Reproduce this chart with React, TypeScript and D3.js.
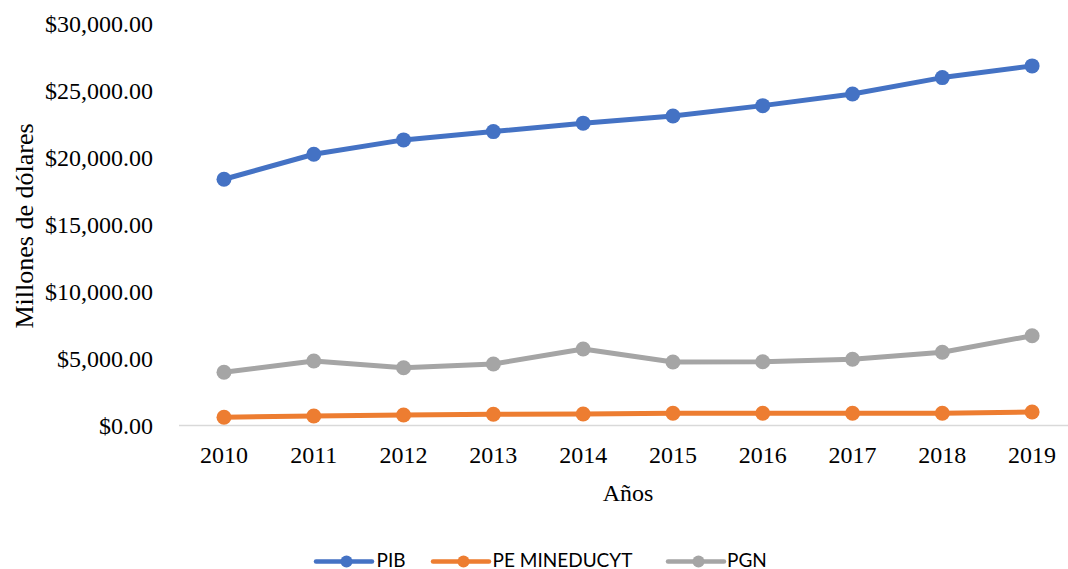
import React from "react";
import * as d3 from "d3";

const years = ["2010", "2011", "2012", "2013", "2014", "2015", "2016", "2017", "2018", "2019"];
const pib = [18400, 20270, 21340, 21960, 22590, 23130, 23900, 24770, 25995, 26870];
const peMineducyt = [613, 710, 785, 837, 860, 912, 912, 912, 912, 1009];
const pgn = [3980, 4820, 4320, 4600, 5720, 4745, 4760, 4950, 5470, 6710];
const yTicks = [0, 5000, 10000, 15000, 20000, 25000, 30000];

const seriesList = [
  { name: "PIB", values: pib, color: "#4472C4" },
  { name: "PE MINEDUCYT", values: peMineducyt, color: "#ED7D31" },
  { name: "PGN", values: pgn, color: "#A5A5A5" },
];

const W = 1068;
const H = 569;

export default function App() {
  const x = d3.scaleBand<string>().domain(years).range([179.1, 1077]).padding(0);
  const cx = (d: string) => (x(d) as number) + x.bandwidth() / 2;
  const y = d3.scaleLinear().domain([0, 30000]).range([425.5, 24]);
  const fmt = (v: number) => "$" + d3.format(",.2f")(v);
  const line = d3
    .line<number>()
    .x((_, i) => cx(years[i]))
    .y((v) => y(v));

  const legendItems = [
    { name: "PIB", color: "#4472C4", x0: 316, tx: 376.5 },
    { name: "PE MINEDUCYT", color: "#ED7D31", x0: 433, tx: 492.5 },
    { name: "PGN", color: "#A5A5A5", x0: 668, tx: 727 },
  ];
  const ly = 561.5;

  return (
    <svg
      width={W}
      height={H}
      style={{ position: "absolute", left: 0, top: 0, background: "#fff" }}
    >
      <rect width={W} height={H} fill="#fff" />
      {yTicks.map((t) => (
        <text
          key={t}
          x={153}
          y={y(t)}
          textAnchor="end"
          dominantBaseline="central"
          fontFamily="'Liberation Serif', 'Times New Roman', serif"
          fontSize={24}
          fill="#000"
        >
          {fmt(t)}
        </text>
      ))}
      <line x1={179} x2={1068} y1={y(0)} y2={y(0)} stroke="#D9D9D9" strokeWidth={1.5} />
      {years.map((yr) => (
        <text
          key={yr}
          x={cx(yr)}
          y={455}
          textAnchor="middle"
          dominantBaseline="central"
          fontFamily="'Liberation Serif', 'Times New Roman', serif"
          fontSize={24}
          fill="#000"
        >
          {yr}
        </text>
      ))}
      <text
        x={628}
        y={493}
        textAnchor="middle"
        dominantBaseline="central"
        fontFamily="'Liberation Serif', 'Times New Roman', serif"
        fontSize={24}
        fill="#000"
      >
        Años
      </text>
      <text
        transform={`translate(24,226) rotate(-90)`}
        textAnchor="middle"
        dominantBaseline="central"
        fontFamily="'Liberation Serif', 'Times New Roman', serif"
        fontSize={26}
        fill="#000"
      >
        Millones de dólares
      </text>
      {seriesList.map((s) => (
        <g key={s.name}>
          <path
            d={line(s.values) || ""}
            fill="none"
            stroke={s.color}
            strokeWidth={5}
            strokeLinejoin="round"
            strokeLinecap="round"
          />
          {s.values.map((v, i) => (
            <circle key={i} cx={cx(years[i])} cy={y(v)} r={7.5} fill={s.color} />
          ))}
        </g>
      ))}
      {legendItems.map((l) => (
        <g key={l.name}>
          <line
            x1={l.x0}
            x2={l.x0 + 56}
            y1={ly}
            y2={ly}
            stroke={l.color}
            strokeWidth={4.5}
            strokeLinecap="round"
          />
          <circle cx={l.x0 + 30.5} cy={ly} r={6} fill={l.color} />
          <text
            x={l.tx}
            y={566.5}
            fontFamily="Lato, 'Open Sans', sans-serif"
            fontSize={19}
            fill="#000"
          >
            {l.name}
          </text>
        </g>
      ))}
    </svg>
  );
}
